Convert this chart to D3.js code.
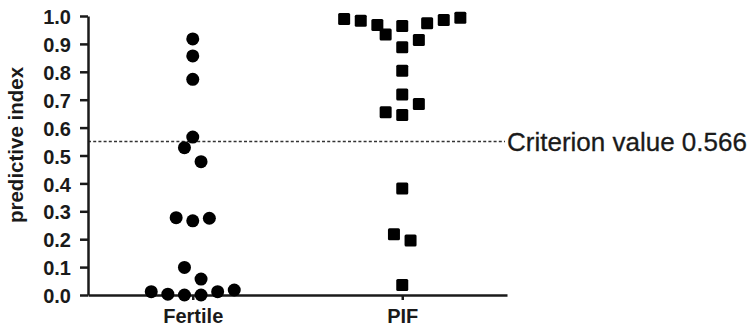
<!DOCTYPE html>
<html>
<head>
<meta charset="utf-8">
<script src="https://cdn.jsdelivr.net/npm/d3@7"></script>
<style>
  html, body { margin: 0; padding: 0; background: #fff; }
  svg { display: block; }
  text { font-family: "Liberation Sans", Arial, sans-serif; fill: #1a1a1a; }
</style>
</head>
<body>
<svg id="chart" width="754" height="331"></svg>
<script>
// ---- data ----
const categories = ["Fertile", "PIF"];
const fertileValues = [0.918, 0.857, 0.773, 0.566, 0.528, 0.478, 0.277, 0.266, 0.275, 0.099, 0.057, 0.012, 0.003, 0.000, 0.000, 0.012, 0.018];
const fertileSlots  = [0, 0, 0, 0, -1, 1, -2, 0, 2, -1, 1, -5, -3, -1, 1, 3, 5];
const pifValues = [0.989, 0.983, 0.968, 0.934, 0.964, 0.888, 0.914, 0.974, 0.986, 0.994, 0.804, 0.719, 0.685, 0.655, 0.645, 0.382, 0.218, 0.195, 0.036];
const pifSlots  = [-7, -5, -3, -2, 0, 0, 2, 3, 5, 7, 0, 0, 2, -2, 0, 0, -1, 1, 0];
const yTicks = [0, 0.1, 0.2, 0.3, 0.4, 0.5, 0.6, 0.7, 0.8, 0.9, 1.0];
const yLabel = "predictive index";
const criterionLine = 0.55;
const criterionLabel = "Criterion value 0.566";

// ---- scales ----
const svg = d3.select("#chart");
const x = d3.scalePoint().domain(categories).range([88, 507]).padding(0.5);
const y = d3.scaleLinear().domain([0, 1]).range([295, 16]);
const slot = d3.scaleLinear().domain([-1, 1]).range([-8.3, 8.3]);

// ---- criterion dashed line ----
svg.append("line")
  .attr("x1", x.range()[0]).attr("x2", 505)
  .attr("y1", y(criterionLine)).attr("y2", y(criterionLine))
  .attr("stroke", "#333").attr("stroke-width", 1.6)
  .attr("stroke-dasharray", "3,2.2");

svg.append("text")
  .attr("x", 507).attr("y", y(criterionLine) + 9.5)
  .attr("font-size", 26)
  .attr("stroke", "#1a1a1a").attr("stroke-width", 0.3)
  .text(criterionLabel);

// ---- axes ----
const yAxis = d3.axisLeft(y).tickValues(yTicks).tickFormat(d3.format(".1f"))
  .tickSize(8).tickSizeOuter(0).tickPadding(9);
const gy = svg.append("g").attr("transform", `translate(${x.range()[0]},0)`).call(yAxis);
gy.selectAll("path, line").attr("stroke", "#1a1a1a").attr("stroke-width", 2.5);
gy.selectAll("text").attr("font-size", 20).attr("font-weight", "bold").attr("font-family", "Liberation Sans, Arial, sans-serif").attr("fill", "#1a1a1a").attr("dy", "0.38em");

const xAxis = d3.axisBottom(x).tickSize(5).tickSizeOuter(0).tickPadding(9);
const gx = svg.append("g").attr("transform", `translate(0,${y(0)})`).call(xAxis);
gx.selectAll("path, line").attr("stroke", "#1a1a1a").attr("stroke-width", 2.5);
gx.selectAll("text").attr("font-size", 20).attr("font-weight", "bold").attr("font-family", "Liberation Sans, Arial, sans-serif").attr("fill", "#1a1a1a");

// ---- y label ----
svg.append("text")
  .attr("transform", `translate(23,145) rotate(-90)`)
  .attr("text-anchor", "middle")
  .attr("font-size", 20.5).attr("font-weight", "bold")
  .text(yLabel);

// ---- points ----
const fertile = fertileValues.map((v, i) => ({ v, s: fertileSlots[i] }));
const pif = pifValues.map((v, i) => ({ v, s: pifSlots[i] }));

svg.append("g").selectAll("circle").data(fertile).join("circle")
  .attr("cx", d => x("Fertile") + slot(d.s))
  .attr("cy", d => y(d.v))
  .attr("r", 6.5)
  .attr("fill", "#000");

const sq = 12;
svg.append("g").selectAll("rect").data(pif).join("rect")
  .attr("x", d => x("PIF") + slot(d.s) - sq / 2)
  .attr("y", d => y(d.v) - sq / 2)
  .attr("width", sq).attr("height", sq)
  .attr("rx", 1.5)
  .attr("fill", "#000");
</script>
</body>
</html>
